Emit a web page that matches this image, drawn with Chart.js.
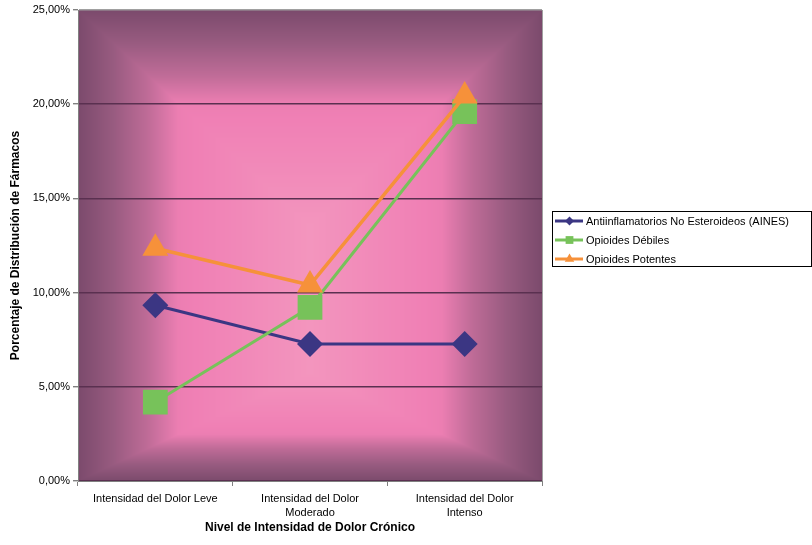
<!DOCTYPE html>
<html>
<head>
<meta charset="utf-8">
<script src="https://cdn.jsdelivr.net/npm/chart.js@4/dist/chart.umd.min.js"></script>
<style>
  html, body { margin: 0; padding: 0; background: #ffffff; }
  #wrap { width: 812px; height: 545px; position: relative; }
</style>
</head>
<body>
<div id="wrap"><canvas id="chart" width="812" height="545"></canvas></div>
<script>
// Pain intensity levels (x axis)
const categories = [
  'Intensidad del Dolor Leve',
  ['Intensidad del Dolor', 'Moderado'],
  ['Intensidad del Dolor', 'Intenso']
];

// Share of each drug family per pain level (%)
const ainesValues = [9.33, 7.27, 7.27];
const debilesValues = [4.19, 9.22, 19.6];
const potentesValues = [12.35, 10.4, 20.43];

const seriesNames = [
  'Antiinflamatorios No Esteroideos (AINES)',
  'Opioides Débiles',
  'Opioides Potentes'
];

const yTicks = [0, 5, 10, 15, 20, 25];

const FONT = "'Liberation Sans', Arial, Helvetica, sans-serif";

// Rectangular "from the centre" shading of the plot area
const plotBackground = {
  id: 'plotBackground',
  beforeDraw(chart) {
    const { left, top, right, bottom } = chart.chartArea;
    const w = Math.round(right - left), h = Math.round(bottom - top);
    const off = document.createElement('canvas');
    off.width = w; off.height = h;
    const octx = off.getContext('2d');
    const img = octx.createImageData(w, h);
    const stops = [
      [0.0, [123, 74, 108]],
      [0.3, [152, 91, 128]],
      [0.6, [192, 108, 152]],
      [0.85, [236, 126, 178]],
      [1.0, [240, 128, 181]],
      [2.0, [243, 150, 190]]
    ];
    const L = 118, R = 118, T = 110, B = 55;
    for (let y = 0; y < h; y++) {
      for (let x = 0; x < w; x++) {
        let e = Math.min((x + 0.5) / L, (w - x - 0.5) / R, (y + 0.5) / T, (h - y - 0.5) / B);
        let c = stops[stops.length - 1][1];
        for (let i = 0; i < stops.length - 1; i++) {
          if (e <= stops[i + 1][0]) {
            const t = Math.max(0, (e - stops[i][0]) / (stops[i + 1][0] - stops[i][0]));
            const a = stops[i][1], b = stops[i + 1][1];
            c = [a[0] + (b[0] - a[0]) * t, a[1] + (b[1] - a[1]) * t, a[2] + (b[2] - a[2]) * t];
            break;
          }
        }
        const k = (y * w + x) * 4;
        img.data[k] = c[0]; img.data[k + 1] = c[1]; img.data[k + 2] = c[2]; img.data[k + 3] = 255;
      }
    }
    octx.putImageData(img, 0, 0);
    chart.ctx.drawImage(off, left, top);
  },
  beforeDatasetsDraw(chart) {
    const { top, right, bottom } = chart.chartArea;
    const ctx = chart.ctx;
    ctx.save();
    ctx.strokeStyle = '#a0a0a0';
    ctx.lineWidth = 1;
    ctx.beginPath();
    ctx.moveTo(Math.round(right) + 0.5, top);
    ctx.lineTo(Math.round(right) + 0.5, bottom);
    ctx.stroke();
    ctx.restore();
  }
};

// Boxed legend to the right of the plot
const boxLegend = {
  id: 'boxLegend',
  afterDraw(chart) {
    const ctx = chart.ctx;
    const x0 = 552, y0 = 211, w = 259, h = 55;
    ctx.save();
    ctx.fillStyle = '#ffffff';
    ctx.fillRect(x0, y0, w, h);
    ctx.strokeStyle = '#000000';
    ctx.lineWidth = 1;
    ctx.strokeRect(x0 + 0.5, y0 + 0.5, w, h);
    const rows = [221, 240, 259];
    chart.data.datasets.forEach((ds, i) => {
      const y = rows[i];
      ctx.strokeStyle = ds.borderColor;
      ctx.lineWidth = 3;
      ctx.beginPath();
      ctx.moveTo(555, y);
      ctx.lineTo(583, y);
      ctx.stroke();
      ctx.fillStyle = ds.backgroundColor;
      Chart.helpers.drawPoint(ctx, {
        pointStyle: ds.pointStyle,
        radius: ds.pointStyle === 'rect' ? 5.5 : (ds.pointStyle === 'triangle' ? 5.5 : 4.5),
        rotation: 0,
        borderWidth: 0
      }, 569.5, y);
      ctx.fillStyle = '#000000';
      ctx.font = '11px ' + FONT;
      ctx.textBaseline = 'middle';
      ctx.textAlign = 'left';
      ctx.fillText(ds.label, 586, y + 0.5);
    });
    ctx.restore();
  }
};

new Chart(document.getElementById('chart'), {
  type: 'line',
  data: {
    labels: categories,
    datasets: [
      {
        label: seriesNames[0],
        data: ainesValues,
        borderColor: '#3b3683',
        backgroundColor: '#3b3683',
        borderWidth: 3,
        pointStyle: 'rectRot',
        pointRadius: 13,
        pointBorderWidth: 0,
        order: 3
      },
      {
        label: seriesNames[1],
        data: debilesValues,
        borderColor: '#77c25a',
        backgroundColor: '#77c25a',
        borderWidth: 3,
        pointStyle: 'rect',
        pointRadius: 17.5,
        pointBorderWidth: 0,
        order: 2
      },
      {
        label: seriesNames[2],
        data: potentesValues,
        borderColor: '#f6913a',
        backgroundColor: '#f6913a',
        borderWidth: 3.5,
        pointStyle: 'triangle',
        pointRadius: 15,
        pointBorderWidth: 0,
        order: 1
      }
    ]
  },
  options: {
    responsive: false,
    animation: false,
    events: [],
    layout: { autoPadding: false, padding: { top: 10, right: 270, bottom: 0, left: 0 } },
    plugins: {
      legend: { display: false },
      tooltip: { enabled: false },
      title: { display: false }
    },
    elements: { line: { tension: 0 } },
    scales: {
      x: {
        type: 'category',
        offset: true,
        grid: {
          offset: true,
          drawOnChartArea: false,
          drawTicks: true,
          tickLength: 5,
          tickColor: '#808080'
        },
        border: { display: true, color: '#808080', width: 1 },
        ticks: {
          color: '#000000',
          font: { family: FONT, size: 11, lineHeight: 1.3 },
          padding: 6,
          maxRotation: 0,
          minRotation: 0,
          autoSkip: false
        },
        title: {
          display: true,
          text: 'Nivel de Intensidad de Dolor Crónico',
          color: '#000000',
          font: { family: FONT, size: 12, weight: 'bold' },
          padding: { top: 0, bottom: 10 }
        },
        afterFit(scale) { scale.height = 64; }
      },
      y: {
        min: 0,
        max: 25,
        afterBuildTicks(scale) { scale.ticks = yTicks.map(v => ({ value: v })); },
        grid: {
          color: (c) => (c.tick && c.tick.value === 25) ? '#a0a0a0' : '#5a3050',
          lineWidth: 1.4,
          drawTicks: true,
          tickLength: 5,
          tickColor: '#808080'
        },
        border: { display: true, color: '#808080', width: 1 },
        ticks: {
          color: '#000000',
          font: { family: FONT, size: 11 },
          padding: 3,
          callback: (v) => v.toFixed(2).replace('.', ',') + '%'
        },
        title: {
          display: true,
          text: 'Porcentaje de Distribución de Fármacos',
          color: '#000000',
          font: { family: FONT, size: 12, weight: 'bold' },
          padding: { top: 8, bottom: 0 }
        },
        afterFit(scale) { scale.width = 78; }
      }
    }
  },
  plugins: [plotBackground, boxLegend]
});
</script>
</body>
</html>
